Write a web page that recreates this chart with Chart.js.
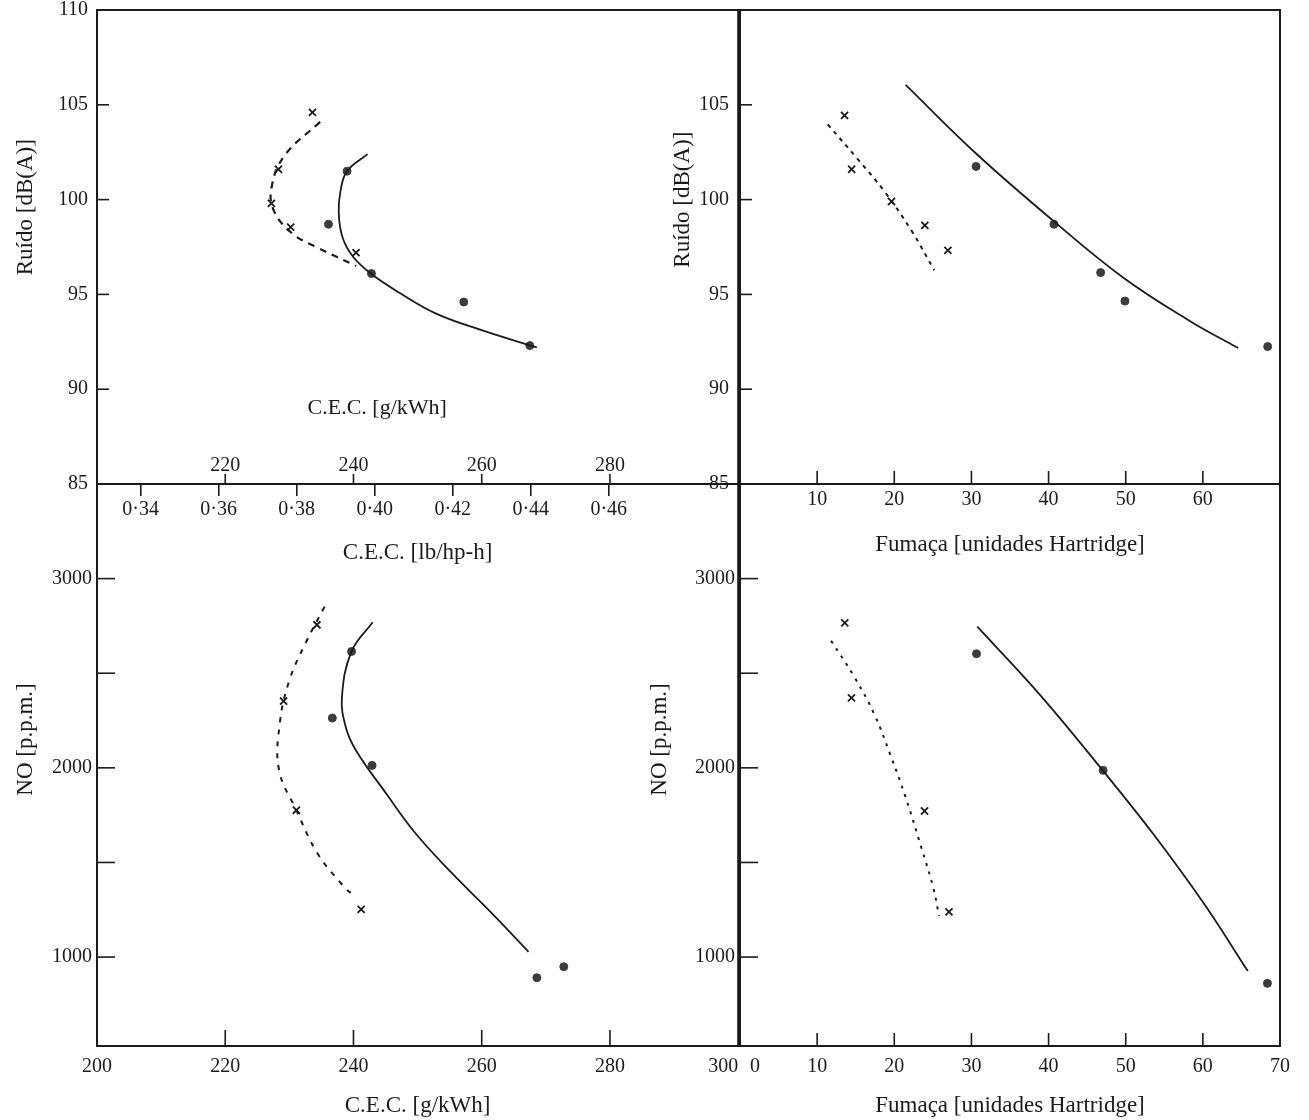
<!DOCTYPE html>
<html lang="pt">
<head>
<meta charset="utf-8">
<title>Ruído e NO em função do C.E.C. e da fumaça</title>
<script src="https://cdn.jsdelivr.net/npm/chart.js@4.4.1/dist/chart.umd.min.js"></script>
<style>
  html, body { margin: 0; padding: 0; background: #fff; }
  #wrap { position: relative; width: 1309px; height: 1120px; overflow: hidden; background: #fff; }
  canvas { position: absolute; }
  #tl { left: 0; top: 0; }
  #tr { left: 640px; top: 0; }
  #bl { left: 0; top: 470px; }
  #br { left: 640px; top: 470px; }
</style>
</head>
<body>
<div id="wrap">
  <canvas id="tl" width="745" height="570"></canvas>
  <canvas id="tr" width="669" height="570"></canvas>
  <canvas id="bl" width="745" height="650"></canvas>
  <canvas id="br" width="669" height="650"></canvas>
</div>
<script>
// ====== DADOS ======
// Ruído [dB(A)] x C.E.C. [g/kWh]
const cecNoiseDotX = [239.0, 236.1, 242.8, 257.2, 267.5];
const cecNoiseDotY = [101.5, 98.7, 96.1, 94.6, 92.3];
const cecNoiseCrossX = [233.6, 228.3, 227.2, 230.2, 240.4];
const cecNoiseCrossY = [104.6, 101.6, 99.8, 98.55, 97.2];
const cecNoiseSolidX = [242.2, 239.0, 238.0, 237.7, 238.3, 239.9, 242.7, 247.1, 252.8, 260.1, 268.6];
const cecNoiseSolidY = [102.4, 101.5, 100.5, 99.3, 98.0, 97.0, 96.1, 95.1, 94.0, 93.1, 92.2];
const cecNoiseDashX = [234.8, 229.2, 227.2, 227.6, 230.5, 234.2, 240.4];
const cecNoiseDashY = [104.1, 102.3, 100.6, 99.4, 98.2, 97.5, 96.5];

// Ruído [dB(A)] x Fumaça [unidades Hartridge]
const smokeNoiseDotX = [30.6, 40.7, 46.75, 49.9, 68.4];
const smokeNoiseDotY = [101.75, 98.7, 96.15, 94.65, 92.25];
const smokeNoiseCrossX = [13.55, 14.47, 19.64, 23.96, 26.95];
const smokeNoiseCrossY = [104.44, 101.6, 99.9, 98.64, 97.32];
const smokeNoiseSolidX = [21.47, 30.6, 40.7, 49.7, 58.3, 64.57];
const smokeNoiseSolidY = [106.05, 102.43, 98.85, 95.88, 93.6, 92.17];
const smokeNoiseDashX = [11.37, 15.18, 18.73, 22.28, 25.18];
const smokeNoiseDashY = [103.97, 102.17, 100.43, 98.33, 96.27];

// NO [p.p.m.] x C.E.C. [g/kWh]
const cecNoDotX = [239.7, 236.7, 242.9, 268.6, 272.8];
const cecNoDotY = [2615, 2263, 2013, 891, 949];
const cecNoCrossX = [234.3, 229.1, 231.1, 241.2];
const cecNoCrossY = [2756, 2353, 1776, 1252];
const cecNoSolidX = [243.0, 239.7, 238.2, 238.8, 240.4, 245.1, 249.7, 255.4, 261.6, 267.3];
const cecNoSolidY = [2769, 2615, 2374, 2215, 2092, 1864, 1653, 1442, 1231, 1028];
const cecNoDashX = [235.5, 232.6, 230.0, 228.5, 228.4, 231.1, 234.4, 238.3, 239.9];
const cecNoDashY = [2852, 2664, 2462, 2233, 1987, 1776, 1547, 1380, 1327];

// NO [p.p.m.] x Fumaça [unidades Hartridge]
const smokeNoDotX = [30.66, 47.07, 68.37];
const smokeNoDotY = [2603, 1987, 861];
const smokeNoCrossX = [13.58, 14.45, 23.92, 27.09];
const smokeNoCrossY = [2766, 2370, 1772, 1239];
const smokeNoSolidX = [30.76, 38.8, 47.07, 53.6, 60.2, 65.83];
const smokeNoSolidY = [2746, 2390, 1984, 1649, 1279, 926];
const smokeNoDashX = [11.8, 14.86, 17.4, 19.45, 21.48, 23.5, 25.05, 25.8];
const smokeNoDashY = [2672, 2478, 2284, 2073, 1843, 1579, 1367, 1217];

// ====== EIXOS ======
const noiseTicks = [85, 90, 95, 100, 105, 110];
const cecTicks = [200, 220, 240, 260, 280, 300];
const cecLbTicks = [0.34, 0.36, 0.38, 0.40, 0.42, 0.44, 0.46];
const smokeTicks = [0, 10, 20, 30, 40, 50, 60, 70];
const noTicks = [1000, 1500, 2000, 2500, 3000];
const noLabelled = [1000, 2000, 3000];

const G_PER_LB = 608.277; // 1 lb/hp-h em g/kWh

// ====== ESTILO ======
const INK = "#1b1b1b";
const DOT = "#3c3c3c";
const FONT = "'Liberation Serif', 'DejaVu Serif', serif";
const tickFont = { family: FONT, size: 20 };
const titleFont = { family: FONT, size: 23 };
const NUDGE = "\u2003\u2002"; // afasta "300" e "0" da divisória central

function pts(xs, ys) {
  return xs.map((x, i) => ({ x, y: ys[i] }));
}
const circles = (xs, ys) => ({
  data: pts(xs, ys), showLine: false, pointStyle: "circle", pointRadius: 4,
  backgroundColor: DOT, borderColor: DOT, borderWidth: 1,
});
const crosses = (xs, ys) => ({
  data: pts(xs, ys), showLine: false, pointStyle: "crossRot", pointRadius: 5,
  borderColor: INK, borderWidth: 1.8,
});
const curve = (xs, ys, dash, width) => ({
  data: pts(xs, ys), showLine: true, pointRadius: 0, borderColor: INK,
  borderWidth: width, borderDash: dash, tension: 0.4, fill: false,
});
const inside = (arr, lo, hi) => arr.filter((v) => v > lo && v < hi);
const fixedTicks = (arr) => (s) => { s.ticks = arr.map((v) => ({ value: v })); };

// tamanho fixo do eixo, sem a folga que o Chart.js reserva para os rótulos das pontas
const fixWidth = (w) => (s) => { s.width = w; s.paddingTop = 0; s.paddingBottom = 0; };
const fixHeight = (h) => (s) => { s.height = h; s.paddingLeft = 0; s.paddingRight = 0; };

// moldura, marcas internas, títulos verticais e nota interna
const decor = {
  id: "decor",
  afterDraw(chart, _args, o) {
    const { ctx, chartArea: a } = chart;
    ctx.save();
    ctx.strokeStyle = INK;
    ctx.fillStyle = INK;
    ctx.lineWidth = 2;
    ctx.strokeRect(a.left, a.top, a.right - a.left, a.bottom - a.top);
    ctx.lineWidth = 1.6;
    (o.inner || []).forEach((t) => {
      const s = chart.scales[t.axis];
      t.values.forEach((v) => {
        const p = s.getPixelForValue(v);
        ctx.beginPath();
        if (s.isHorizontal()) {
          ctx.moveTo(p, a.bottom);
          ctx.lineTo(p, a.bottom - t.len);
        } else {
          ctx.moveTo(a.left, p);
          ctx.lineTo(a.left + t.len, p);
        }
        ctx.stroke();
        if (t.labelGap) {
          ctx.font = `20px ${FONT}`;
          ctx.textAlign = "center";
          ctx.textBaseline = "middle";
          ctx.fillText(String(v), p, a.bottom - t.labelGap);
        }
      });
    });
    if (o.yTitle) {
      const y = chart.scales.y.getPixelForValue(o.yTitle.at);
      ctx.save();
      ctx.translate(a.left + o.yTitle.dx, y);
      ctx.rotate(-Math.PI / 2);
      ctx.font = `23px ${FONT}`;
      ctx.textAlign = "center";
      ctx.textBaseline = "middle";
      ctx.fillText(o.yTitle.text, 0, 0);
      ctx.restore();
    }
    if (o.note) {
      ctx.font = `22px ${FONT}`;
      ctx.textAlign = "center";
      ctx.textBaseline = "middle";
      ctx.fillText(o.note.text, chart.scales.x.getPixelForValue(o.note.x),
        chart.scales.y.getPixelForValue(o.note.y));
    }
    ctx.restore();
  },
};

function yScale(min, max, ticks, width, pad, label) {
  return {
    type: "linear", position: "left", min, max,
    afterBuildTicks: fixedTicks(ticks),
    afterFit: fixWidth(width),
    border: { display: false },
    grid: { display: false, drawTicks: false },
    ticks: { color: INK, font: tickFont, padding: pad, autoSkip: false, callback: label },
  };
}

function xScale(min, max, ticks, height, pad, label, title, titlePad) {
  return {
    type: "linear", position: "bottom", min, max,
    afterBuildTicks: fixedTicks(ticks),
    afterFit: fixHeight(height),
    border: { display: false },
    grid: { display: false, drawTicks: false },
    ticks: { color: INK, font: tickFont, padding: pad, autoSkip: false, maxRotation: 0, callback: label },
    title: { display: true, text: title, color: INK, font: titleFont, padding: { top: 0, bottom: titlePad } },
  };
}

function panel(id, datasets, scales, padding, decorOpts) {
  return new Chart(document.getElementById(id), {
    type: "scatter",
    data: { datasets },
    options: {
      responsive: false,
      animation: false,
      events: [],
      layout: { padding },
      scales,
      plugins: { legend: { display: false }, tooltip: { enabled: false }, decor: decorOpts },
    },
    plugins: [decor],
  });
}

// ====== Ruído x C.E.C. ======
panel("tl", [
  curve(cecNoiseSolidX, cecNoiseSolidY, [], 1.8),
  curve(cecNoiseDashX, cecNoiseDashY, [7, 6], 2.2),
  circles(cecNoiseDotX, cecNoiseDotY),
  crosses(cecNoiseCrossX, cecNoiseCrossY),
], {
  x: { type: "linear", display: false, min: 200, max: 300 },
  xlb: {
    type: "linear", position: "bottom", min: 200 / G_PER_LB, max: 300 / G_PER_LB,
    afterBuildTicks: fixedTicks(cecLbTicks),
    afterFit: fixHeight(86),
    border: { display: false },
    grid: { drawOnChartArea: false, drawTicks: true, tickLength: 12, color: INK, lineWidth: 1.6 },
    ticks: { color: INK, font: tickFont, padding: 2, autoSkip: false, maxRotation: 0,
      callback: (v) => v.toFixed(2).replace(".", "·") },
    title: { display: true, text: "C.E.C. [lb/hp-h]", color: INK, font: titleFont, padding: { top: 0, bottom: 3 } },
  },
  y: yScale(85, 110, noiseTicks, 97, 9),
}, { top: 10, right: 5, left: 0, bottom: 0 }, {
  inner: [
    { axis: "y", values: inside(noiseTicks, 85, 110), len: 12 },
    { axis: "x", values: inside(cecTicks, 200, 300), len: 10, labelGap: 18 },
  ],
  yTitle: { text: "Ruído [dB(A)]", dx: -71, at: 99.6 },
  note: { text: "C.E.C. [g/kWh]", x: 243.7, y: 89 },
});

// ====== Ruído x Fumaça ======
panel("tr", [
  curve(smokeNoiseSolidX, smokeNoiseSolidY, [], 1.8),
  curve(smokeNoiseDashX, smokeNoiseDashY, [4, 5], 2),
  circles(smokeNoiseDotX, smokeNoiseDotY),
  crosses(smokeNoiseCrossX, smokeNoiseCrossY),
], {
  x: xScale(0, 70, smokeTicks, 86, 4, (v) => (v === 0 || v === 70 ? "" : String(v)),
    "Fumaça [unidades Hartridge]", 11),
  y: yScale(85, 110, noiseTicks, 100, 11, (v) => (v === 110 ? "" : String(v))),
}, { top: 10, right: 29, left: 0, bottom: 0 }, {
  inner: [
    { axis: "y", values: inside(noiseTicks, 85, 110), len: 12 },
    { axis: "x", values: inside(smokeTicks, 0, 70), len: 13 },
  ],
  yTitle: { text: "Ruído [dB(A)]", dx: -57, at: 100 },
});

// ====== NO x C.E.C. ======
panel("bl", [
  curve(cecNoSolidX, cecNoSolidY, [], 1.8),
  curve(cecNoDashX, cecNoDashY, [5, 7], 2),
  circles(cecNoDotX, cecNoDotY),
  crosses(cecNoCrossX, cecNoCrossY),
], {
  x: xScale(200, 300, cecTicks, 74, 9, (v) => (v === 300 ? "300" + NUDGE : String(v)),
    "C.E.C. [g/kWh]", 0),
  y: yScale(530, 3500, noTicks, 97, 5, (v) => (noLabelled.includes(v) ? String(v) : "")),
}, { top: 14, right: 5, left: 0, bottom: 0 }, {
  inner: [
    { axis: "y", values: noTicks, len: 18 },
    { axis: "x", values: inside(cecTicks, 200, 300), len: 16 },
  ],
  yTitle: { text: "NO [p.p.m.]", dx: -71, at: 2150 },
});

// ====== NO x Fumaça ======
panel("br", [
  curve(smokeNoSolidX, smokeNoSolidY, [], 1.8),
  curve(smokeNoDashX, smokeNoDashY, [3, 6], 2),
  circles(smokeNoDotX, smokeNoDotY),
  crosses(smokeNoCrossX, smokeNoCrossY),
], {
  x: xScale(0, 70, smokeTicks, 74, 9, (v) => (v === 0 ? NUDGE + "0" : String(v)),
    "Fumaça [unidades Hartridge]", 0),
  y: yScale(530, 3500, noTicks, 100, 5, (v) => (noLabelled.includes(v) ? String(v) : "")),
}, { top: 14, right: 29, left: 0, bottom: 0 }, {
  inner: [
    { axis: "y", values: noTicks, len: 18 },
    { axis: "x", values: inside(smokeTicks, 0, 70), len: 13 },
  ],
  yTitle: { text: "NO [p.p.m.]", dx: -80, at: 2150 },
});
</script>
</body>
</html>
